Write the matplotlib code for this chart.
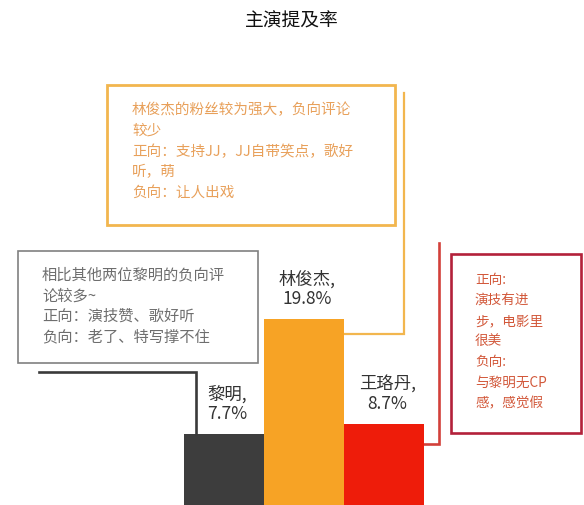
import matplotlib
matplotlib.use("Agg")
import matplotlib.pyplot as plt
from matplotlib.patches import Rectangle

plt.rcParams['font.family'] = ['Noto Sans CJK SC', 'DejaVu Sans']

# Data
actors = ["黎明", "林俊杰", "王珞丹"]
mention_rate = [7.7, 19.8, 8.7]
bar_colors = ["#3d3d3d", "#f7a325", "#ee1c0a"]
title = "主演提及率"

notes_liming = ["相比其他两位黎明的负向评", "论较多~", "正向：演技赞、歌好听", "负向：老了、特写撑不住"]
notes_jj = ["林俊杰的粉丝较为强大，负向评论", "较少", "正向：支持JJ，JJ自带笑点，歌好", "听，萌", "负向：让人出戏"]
notes_wld = ["正向:", "演技有进", "步，电影里", "很美", "负向:", "与黎明无CP", "感，感觉假"]

W, H = 584, 505
fig = plt.figure(figsize=(W / 100, H / 100), dpi=100)
ax = fig.add_axes([0, 0, 1, 1])
ax.set_xlim(-2.8, 4.5)
ax.set_ylim(0.21, 53.37)
ax.axis("off")

x = list(range(len(actors)))
ax.bar(x, mention_rate, width=1.0, color=bar_colors, zorder=2)

for i, (name, v) in enumerate(zip(actors, mention_rate)):
    ax.annotate(f"{name},\n{v}%", xy=(i + 0.04, v), xytext=(0, 8),
                textcoords="offset points", ha="center", va="bottom",
                fontsize=12.5, color="#333333", linespacing=1.1)


def to_data(px, py):
    """Pixel position (origin top-left) to data coordinates."""
    return ax.transData.inverted().transform((px, H - py))


def fig_box(x0, y0, x1, y1, ec, lw):
    fig.patches.append(Rectangle((x0 / W, 1 - y1 / H), (x1 - x0) / W, (y1 - y0) / H,
                                 transform=fig.transFigure, fill=False,
                                 edgecolor=ec, linewidth=lw, zorder=3))


def fig_lines(lines, x0, y0, step, color, size):
    for k, t in enumerate(lines):
        fig.text(x0 / W, 1 - (y0 + k * step) / H, t, ha="left", va="center",
                 fontsize=size, color=color)


fig.text(0.5, 1 - 21 / H, title, ha="center", va="center", fontsize=13.5, color="#111111")

# Annotation boxes
fig_box(18, 251, 258, 363, "#808080", 1.2)
fig_lines(notes_liming, 42, 275, 20.7, "#6e6e6e", 11)

fig_box(107, 85, 395, 225, "#f2b64e", 2.0)
fig_lines(notes_jj, 132, 110, 20.7, "#e8a05a", 10.5)

fig_box(451, 254, 581, 433, "#b3213a", 1.9)
fig_lines(notes_wld, 475, 280, 20.5, "#d2583a", 9.8)

# Connectors from boxes to bars
xa, ya = to_data(39, 372)
xb, _ = to_data(196, 372)
ax.plot([xa, xb, xb], [ya, ya, mention_rate[0]], color="#3a3a3a", lw=1.9,
        solid_joinstyle="miter", zorder=3)

xc, yc = to_data(404, 93)
_, yd = to_data(404, 334)
ax.plot([xc, xc, 1.5], [yc, yd, yd], color="#f2b64e", lw=1.6,
        solid_joinstyle="miter", zorder=1)

xe, ye = to_data(439, 243)
_, yf = to_data(439, 444)
ax.plot([xe, xe, 2.5], [ye, yf, yf], color="#d2403a", lw=1.9,
        solid_joinstyle="miter", zorder=1)

fig.savefig("out.png", dpi=100)
